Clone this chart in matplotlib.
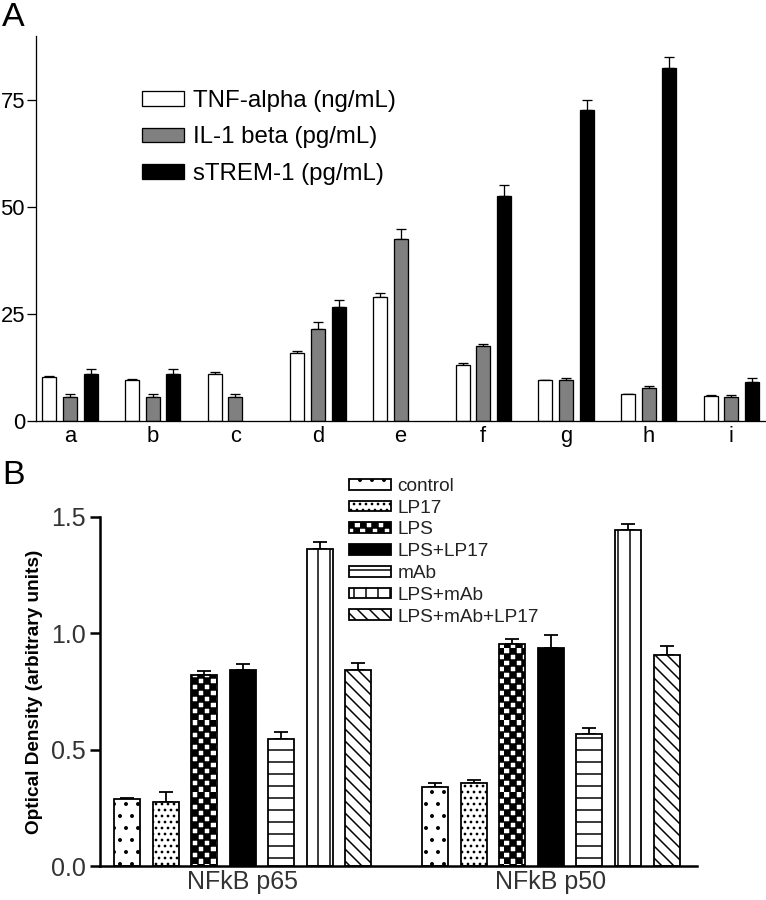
import numpy as np
import matplotlib
matplotlib.use('Agg')
import matplotlib.pyplot as plt
import matplotlib.hatch as mhatch
from matplotlib.path import Path

# ==========================================
# DATA
# ==========================================
# Panel A: cytokine levels per condition
groups_a = ['a', 'b', 'c', 'd', 'e', 'f', 'g', 'h', 'i']
tnf       = [10.2, 9.7, 11.0, 16.0, 29.0, 13.1, 9.5, 6.3, 5.8]
tnf_err   = [0.4, 0.2, 0.4, 0.3, 1.0, 0.5, 0.2, 0.1, 0.2]
il1       = [5.6, 5.6, 5.6, 21.5, 42.5, 17.5, 9.6, 7.6, 5.5]
il1_err   = [0.7, 0.7, 0.7, 1.6, 2.5, 0.6, 0.5, 0.5, 0.6]
strem     = [11.0, 11.0, np.nan, 26.6, np.nan, 52.6, 72.6, 82.5, 9.1]
strem_err = [1.2, 1.2, np.nan, 1.6, np.nan, 2.5, 2.4, 2.5, 1.0]
series_a = ['TNF-alpha (ng/mL)', 'IL-1 beta (pg/mL)', 'sTREM-1 (pg/mL)']

# Panel B: optical density of NF-kB subunits
targets_b = ['NFkB p65', 'NFkB p50']
treatments = ['control', 'LP17', 'LPS', 'LPS+LP17', 'mAb', 'LPS+mAb', 'LPS+mAb+LP17']
p65     = [0.288, 0.276, 0.820, 0.842, 0.545, 1.362, 0.842]
p65_err = [0.005, 0.040, 0.020, 0.025, 0.030, 0.030, 0.032]
p50     = [0.340, 0.356, 0.954, 0.937, 0.568, 1.442, 0.906]
p50_err = [0.016, 0.013, 0.020, 0.056, 0.023, 0.030, 0.040]


# checkerboard hatch (takes the place of the '*' star pattern)
class CheckerHatch(mhatch.HatchPatternBase):
    def __init__(self, hatch, density):
        self.n = hatch.count('*') * density * 2
        self.num_vertices = (self.n * self.n // 2) * 5

    def set_vertices_and_codes(self, vertices, codes):
        s = 1.0 / self.n
        k = 0
        for i in range(self.n):
            for j in range(self.n):
                if (i + j) % 2:
                    continue
                x0, y0 = i * s, j * s
                vertices[k:k + 5] = [[x0, y0], [x0 + s, y0], [x0 + s, y0 + s],
                                     [x0, y0 + s], [x0, y0]]
                codes[k:k + 5] = [Path.MOVETO, Path.LINETO, Path.LINETO,
                                  Path.LINETO, Path.CLOSEPOLY]
                k += 5


mhatch._hatch_types = [t for t in mhatch._hatch_types if t is not mhatch.Stars] + [CheckerHatch]

plt.rcParams['font.family'] = ['Liberation Sans', 'DejaVu Sans']
plt.rcParams['hatch.linewidth'] = 1.5

W, H = 766, 900
fig = plt.figure(figsize=(W / 72, H / 72), dpi=72)

# ==========================================
# PANEL A
# ==========================================
axA = fig.add_axes([36 / W, 1 - 421 / H, 1 - 36 / W, (421 - 36) / H])
x = np.arange(len(groups_a))
bw = 0.17
offs = [-0.25, 0.0, 0.25]
colors_a = ['white', '#808080', 'black']
vals_a = [tnf, il1, strem]
errs_a = [tnf_err, il1_err, strem_err]
handles_a = []
for k in range(3):
    b = axA.bar(x + offs[k], vals_a[k], width=bw, color=colors_a[k],
                edgecolor='black', linewidth=1.3, zorder=2)
    handles_a.append(b)
    err = np.array(errs_a[k])
    axA.errorbar(x + offs[k], vals_a[k], yerr=[np.zeros_like(err), err],
                 fmt='none', ecolor='black', elinewidth=1.3, capsize=5,
                 capthick=1.3, zorder=1)

axA.set_xlim(-0.41, 8.42)
axA.set_ylim(0, 90)
axA.set_yticks([0, 25, 50, 75])
axA.set_xticks(x)
axA.set_xticklabels(groups_a)
axA.tick_params(axis='y', length=9, width=1.3, pad=2, labelsize=22)
axA.tick_params(axis='x', length=0, pad=5, labelsize=22)
for s in ['top', 'right']:
    axA.spines[s].set_visible(False)
for s in ['left', 'bottom']:
    axA.spines[s].set_linewidth(1.3)

fig.legend(handles_a, series_a, loc='upper left',
           bbox_to_anchor=(142 / W, 1 - 90 / H), frameon=False,
           fontsize=24, handlelength=1.75, handleheight=0.55,
           handletextpad=0.38, labelspacing=0.6, borderpad=0, borderaxespad=0)
fig.text(2 / W, 1 - 2 / H, 'A', fontsize=34, ha='left', va='top')

# ==========================================
# PANEL B
# ==========================================
axB = fig.add_axes([100 / W, 1 - 866 / H, (697 - 100) / W, (866 - 517) / H])
xb = np.arange(len(targets_b))
pitch = 0.125
bwb = 0.0844
hatches = ['.', '..', '*', '', '-', '|', '\\\\']
fills = ['white', 'white', 'white', 'black', 'white', 'white', 'white']
handles_b = []
for k in range(len(treatments)):
    pos = xb + (k - 3) * pitch
    vals = [p65[k], p50[k]]
    b = axB.bar(pos, vals, width=bwb, color=fills[k], edgecolor='black',
                hatch=hatches[k], linewidth=1.8, zorder=2)
    handles_b.append(b)
    axB.errorbar(pos, vals, yerr=[[0, 0], [p65_err[k], p50_err[k]]],
                 fmt='none', ecolor='black', elinewidth=1.8, capsize=7,
                 capthick=1.8, zorder=1)

axB.set_xlim(-0.464, 1.474)
axB.set_ylim(0, 1.5)
axB.set_yticks([0.0, 0.5, 1.0, 1.5])
axB.set_yticklabels(['0.0', '0.5', '1.0', '1.5'])
axB.set_xticks(xb)
axB.set_xticklabels(targets_b)
axB.tick_params(axis='y', length=10, width=2.5, pad=4, labelsize=25,
                labelcolor='#333333')
axB.tick_params(axis='x', length=0, pad=4, labelsize=25, labelcolor='#333333')
for s in ['top', 'right']:
    axB.spines[s].set_visible(False)
for s in ['left', 'bottom']:
    axB.spines[s].set_linewidth(2.5)
axB.set_ylabel('Optical Density (arbitrary units)', fontsize=19,
               fontweight='bold', labelpad=8)

fig.legend(handles_b, treatments, loc='upper left',
           bbox_to_anchor=(349 / W, 1 - 478 / H), frameon=False,
           fontsize=19, handlelength=2.2, handleheight=0.5,
           handletextpad=0.35, labelspacing=0.25, borderpad=0, borderaxespad=0,
           labelcolor='#222222')
fig.text(2 / W, 1 - 460 / H, 'B', fontsize=34, ha='left', va='top')

fig.savefig('out.png', dpi=72)
